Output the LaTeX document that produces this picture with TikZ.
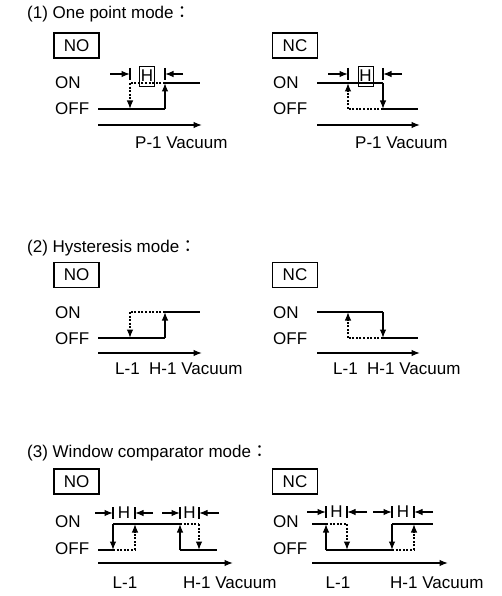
\documentclass[tikz,border=0pt]{standalone}
\usepackage{fontspec}
\setmainfont{Liberation Sans}
\newfontfamily\cjk{Noto Sans CJK TC}
\usetikzlibrary{arrows.meta}
\begin{document}
\begin{tikzpicture}[x=1pt,y=-1pt,
  font=\fontsize{17}{20}\selectfont,
  sig/.style={line width=1.25pt},
  dsh/.style={line width=1.25pt,dash pattern=on 2pt off 1.6pt},
  arr/.style={-{Latex[length=8.5pt,width=6.5pt]}},
  bar/.style={line width=1.1pt},
  modebox/.style={draw,line width=1.3pt,minimum width=45pt,minimum height=25pt,inner sep=0pt},
  hbox/.style={draw,line width=0.8pt,minimum width=15pt,minimum height=20pt,inner sep=0pt},
  lbl/.style={anchor=west,inner sep=0pt},
  ttl/.style={anchor=base west,inner sep=0pt},
  htxt/.style={inner sep=0pt}]
\useasboundingbox (0,0) rectangle (501,596);

% ================= (1) One point mode =================
\node[ttl] (t1) at (27,19) {(1) One point mode{\cjk ：}};
% NO
\node[modebox] (no1) at (76.5,45.5) {NO};
\node[lbl] (on1a) at (55,83) {ON};
\node[lbl] (off1a) at (55,109) {OFF};
\draw[sig] (98,109) -- (165,109);
\draw[sig,arr] (165,109) -- (165,83);
\draw[sig] (165,83) -- (200,83);
\draw[dsh] (165,83) -- (130,83);
\draw[dsh,arr] (130,83) -- (130,109);
\node[hbox] (h1a) at (147,76) {H};
\draw[sig,arr] (110,74) -- (130,74);
\draw[bar] (130,68) -- (130,80);
\draw[sig,arr] (183,74) -- (165,74);
\draw[bar] (165,68) -- (165,80);
\draw[sig,arr] (98,125) -- (202,125);
\node[lbl] (x1a) at (135,143) {P-1 Vacuum};
% NC
\node[modebox] (nc1) at (295,45.5) {NC};
\node[lbl] (on1b) at (273,83) {ON};
\node[lbl] (off1b) at (273,109) {OFF};
\draw[sig] (317,83) -- (383,83);
\draw[sig,arr] (383,83) -- (383,109);
\draw[sig] (383,109) -- (418,109);
\draw[dsh] (383,109) -- (348,109);
\draw[dsh,arr] (348,109) -- (348,83);
\node[hbox] (h1b) at (365.5,76) {H};
\draw[sig,arr] (328,74) -- (348,74);
\draw[bar] (348,68) -- (348,80);
\draw[sig,arr] (402,74) -- (383,74);
\draw[bar] (383,68) -- (383,80);
\draw[sig,arr] (317,125) -- (420,125);
\node[lbl] (x1b) at (355,143) {P-1 Vacuum};

% ================= (2) Hysteresis mode =================
\node[ttl] (t2) at (27,252) {(2) Hysteresis mode{\cjk ：}};
% NO
\node[modebox] (no2) at (76.5,275) {NO};
\node[lbl] (on2a) at (55,313) {ON};
\node[lbl] (off2a) at (55,339) {OFF};
\draw[sig] (98,338) -- (165,338);
\draw[sig,arr] (165,338) -- (165,312);
\draw[sig] (165,312) -- (200,312);
\draw[dsh] (165,312) -- (130,312);
\draw[dsh,arr] (130,312) -- (130,338);
\draw[sig,arr] (98,353) -- (202,353);
\node[lbl] (x2a) at (115,369) {L-1~~H-1 Vacuum};
% NC
\node[modebox] (nc2) at (295,275) {NC};
\node[lbl] (on2b) at (273,313) {ON};
\node[lbl] (off2b) at (273,339) {OFF};
\draw[sig] (317,312) -- (383,312);
\draw[sig,arr] (383,312) -- (383,338);
\draw[sig] (383,338) -- (418,338);
\draw[dsh] (383,338) -- (348,338);
\draw[dsh,arr] (348,338) -- (348,312);
\draw[sig,arr] (317,353) -- (420,353);
\node[lbl] (x2b) at (333,369) {L-1~~H-1 Vacuum};

% ================= (3) Window comparator mode =================
\node[ttl] (t3) at (27,457) {(3) Window comparator mode{\cjk ：}};
% NO
\node[modebox] (no3) at (76.5,481.5) {NO};
\node[lbl] (on3a) at (55,522) {ON};
\node[lbl] (off3a) at (55,549) {OFF};
\draw[sig] (98,550) -- (113,550);
\draw[sig,arr] (113,524) -- (113,550);
\draw[sig] (113,524) -- (180,524);
\draw[sig,arr] (180,550) -- (180,524);
\draw[sig] (180,550) -- (217,550);
\draw[dsh] (113,550) -- (135,550);
\draw[dsh,arr] (135,550) -- (135,524);
\draw[dsh] (180,524) -- (199,524);
\draw[dsh,arr] (199,524) -- (199,550);
\draw[sig,arr] (95,513) -- (113,513);
\draw[bar] (113,507) -- (113,519);
\node[htxt] (h3a) at (124,513) {H};
\draw[bar] (135,507) -- (135,519);
\draw[sig,arr] (153,513) -- (135,513);
\draw[sig,arr] (162,513) -- (180,513);
\draw[bar] (180,507) -- (180,519);
\node[htxt] (h3b) at (189.5,513) {H};
\draw[bar] (199,507) -- (199,519);
\draw[sig,arr] (219,513) -- (199,513);
\draw[sig,arr] (98,563) -- (233,563);
\node[inner sep=0pt] (l3a) at (125,583) {L-1};
\node[lbl] (u3a) at (183,583) {H-1 Vacuum};
% NC
\node[modebox] (nc3) at (295,481.5) {NC};
\node[lbl] (on3b) at (273,522) {ON};
\node[lbl] (off3b) at (273,549) {OFF};
\draw[sig] (312,524) -- (326,524);
\draw[sig,arr] (326,550) -- (326,524);
\draw[sig] (326,550) -- (392,550);
\draw[sig,arr] (392,524) -- (392,550);
\draw[sig] (392,524) -- (433,524);
\draw[dsh] (326,524) -- (347,524);
\draw[dsh,arr] (347,524) -- (347,550);
\draw[dsh] (392,550) -- (414,550);
\draw[dsh,arr] (414,550) -- (414,524);
\draw[sig,arr] (307,512) -- (326,512);
\draw[bar] (326,506) -- (326,518);
\node[htxt] (h3c) at (336.5,512) {H};
\draw[bar] (347,506) -- (347,518);
\draw[sig,arr] (367,512) -- (347,512);
\draw[sig,arr] (373,512) -- (392,512);
\draw[bar] (392,506) -- (392,518);
\node[htxt] (h3d) at (403,512) {H};
\draw[bar] (414,506) -- (414,518);
\draw[sig,arr] (433,512) -- (414,512);
\draw[sig,arr] (312,563) -- (448,563);
\node[inner sep=0pt] (l3b) at (338,583) {L-1};
\node[lbl] (u3b) at (390,583) {H-1 Vacuum};
\end{tikzpicture}
\end{document}
